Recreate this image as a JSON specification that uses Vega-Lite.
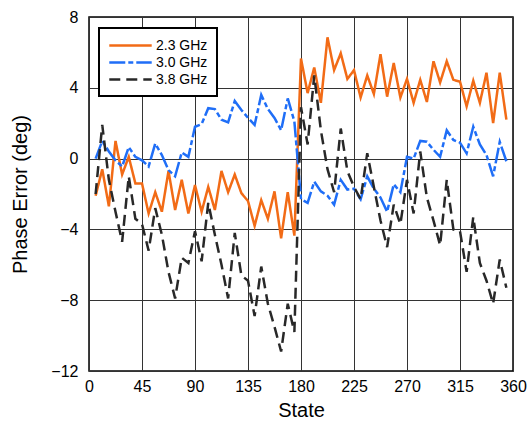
{
  "$schema": "https://vega.github.io/schema/vega-lite/v6.json",
  "width": 424,
  "height": 354,
  "autosize": {"type": "none"},
  "padding": {"left": 89, "top": 17, "right": 14, "bottom": 55},
  "background": "white",
  "config": {
    "font": "Liberation Sans",
    "view": {"stroke": "black", "strokeWidth": 1.5},
    "axis": {
      "grid": true,
      "gridColor": "#333333",
      "gridOpacity": 1,
      "gridWidth": 1,
      "ticks": false,
      "domain": false,
      "labelFontSize": 16,
      "labelColor": "black",
      "titleFontSize": 20,
      "titleFontWeight": "normal",
      "titleColor": "black"
    }
  },
  "datasets": {
    "d": [
      {"state": 5.625, "freq": "2.3 GHz", "err": -2.1},
      {"state": 11.25, "freq": "2.3 GHz", "err": -0.6},
      {"state": 16.875, "freq": "2.3 GHz", "err": -2.7},
      {"state": 22.5, "freq": "2.3 GHz", "err": 1.0},
      {"state": 28.125, "freq": "2.3 GHz", "err": -0.9},
      {"state": 33.75, "freq": "2.3 GHz", "err": 0.1},
      {"state": 39.375, "freq": "2.3 GHz", "err": -1.4},
      {"state": 45, "freq": "2.3 GHz", "err": -1.4},
      {"state": 50.625, "freq": "2.3 GHz", "err": -3.1},
      {"state": 56.25, "freq": "2.3 GHz", "err": -1.9},
      {"state": 61.875, "freq": "2.3 GHz", "err": -3.0},
      {"state": 67.5, "freq": "2.3 GHz", "err": -0.7},
      {"state": 73.125, "freq": "2.3 GHz", "err": -2.9},
      {"state": 78.75, "freq": "2.3 GHz", "err": -1.2},
      {"state": 84.375, "freq": "2.3 GHz", "err": -3.1},
      {"state": 90, "freq": "2.3 GHz", "err": -1.5},
      {"state": 95.625, "freq": "2.3 GHz", "err": -3.0},
      {"state": 101.25, "freq": "2.3 GHz", "err": -1.6},
      {"state": 106.875, "freq": "2.3 GHz", "err": -2.9},
      {"state": 112.5, "freq": "2.3 GHz", "err": -0.7},
      {"state": 118.125, "freq": "2.3 GHz", "err": -1.9},
      {"state": 123.75, "freq": "2.3 GHz", "err": -0.9},
      {"state": 129.375, "freq": "2.3 GHz", "err": -1.95},
      {"state": 135, "freq": "2.3 GHz", "err": -2.4},
      {"state": 140.625, "freq": "2.3 GHz", "err": -3.8},
      {"state": 146.25, "freq": "2.3 GHz", "err": -2.35},
      {"state": 151.875, "freq": "2.3 GHz", "err": -3.4},
      {"state": 157.5, "freq": "2.3 GHz", "err": -1.85},
      {"state": 163.125, "freq": "2.3 GHz", "err": -4.5},
      {"state": 168.75, "freq": "2.3 GHz", "err": -1.9},
      {"state": 174.375, "freq": "2.3 GHz", "err": -4.35},
      {"state": 180, "freq": "2.3 GHz", "err": 5.65},
      {"state": 185.625, "freq": "2.3 GHz", "err": 3.7},
      {"state": 191.25, "freq": "2.3 GHz", "err": 5.15},
      {"state": 196.875, "freq": "2.3 GHz", "err": 3.15},
      {"state": 202.5, "freq": "2.3 GHz", "err": 6.85},
      {"state": 208.125, "freq": "2.3 GHz", "err": 5.0},
      {"state": 213.75, "freq": "2.3 GHz", "err": 5.95},
      {"state": 219.375, "freq": "2.3 GHz", "err": 4.5},
      {"state": 225, "freq": "2.3 GHz", "err": 5.0},
      {"state": 230.625, "freq": "2.3 GHz", "err": 3.45},
      {"state": 236.25, "freq": "2.3 GHz", "err": 4.7},
      {"state": 241.875, "freq": "2.3 GHz", "err": 3.65},
      {"state": 247.5, "freq": "2.3 GHz", "err": 5.9},
      {"state": 253.125, "freq": "2.3 GHz", "err": 3.5},
      {"state": 258.75, "freq": "2.3 GHz", "err": 5.4},
      {"state": 264.375, "freq": "2.3 GHz", "err": 3.45},
      {"state": 270, "freq": "2.3 GHz", "err": 4.5},
      {"state": 275.625, "freq": "2.3 GHz", "err": 3.15},
      {"state": 281.25, "freq": "2.3 GHz", "err": 4.45},
      {"state": 286.875, "freq": "2.3 GHz", "err": 3.2},
      {"state": 292.5, "freq": "2.3 GHz", "err": 5.5},
      {"state": 298.125, "freq": "2.3 GHz", "err": 4.3},
      {"state": 303.75, "freq": "2.3 GHz", "err": 5.5},
      {"state": 309.375, "freq": "2.3 GHz", "err": 4.45},
      {"state": 315, "freq": "2.3 GHz", "err": 4.35},
      {"state": 320.625, "freq": "2.3 GHz", "err": 2.95},
      {"state": 326.25, "freq": "2.3 GHz", "err": 4.4},
      {"state": 331.875, "freq": "2.3 GHz", "err": 3.15},
      {"state": 337.5, "freq": "2.3 GHz", "err": 4.85},
      {"state": 343.125, "freq": "2.3 GHz", "err": 2.0},
      {"state": 348.75, "freq": "2.3 GHz", "err": 4.85},
      {"state": 354.375, "freq": "2.3 GHz", "err": 2.2},

      {"state": 5.625, "freq": "3.0 GHz", "err": 0.0},
      {"state": 11.25, "freq": "3.0 GHz", "err": 1.0},
      {"state": 16.875, "freq": "3.0 GHz", "err": 0.4},
      {"state": 22.5, "freq": "3.0 GHz", "err": -0.1},
      {"state": 28.125, "freq": "3.0 GHz", "err": -0.45},
      {"state": 33.75, "freq": "3.0 GHz", "err": 0.65},
      {"state": 39.375, "freq": "3.0 GHz", "err": 0.1},
      {"state": 45, "freq": "3.0 GHz", "err": -0.1},
      {"state": 50.625, "freq": "3.0 GHz", "err": -0.45},
      {"state": 56.25, "freq": "3.0 GHz", "err": 0.85},
      {"state": 61.875, "freq": "3.0 GHz", "err": 0.2},
      {"state": 67.5, "freq": "3.0 GHz", "err": -0.65},
      {"state": 73.125, "freq": "3.0 GHz", "err": -1.0},
      {"state": 78.75, "freq": "3.0 GHz", "err": 0.35},
      {"state": 84.375, "freq": "3.0 GHz", "err": 0.1},
      {"state": 90, "freq": "3.0 GHz", "err": 1.8},
      {"state": 95.625, "freq": "3.0 GHz", "err": 1.95},
      {"state": 101.25, "freq": "3.0 GHz", "err": 2.85},
      {"state": 106.875, "freq": "3.0 GHz", "err": 2.8},
      {"state": 112.5, "freq": "3.0 GHz", "err": 2.2},
      {"state": 118.125, "freq": "3.0 GHz", "err": 2.05},
      {"state": 123.75, "freq": "3.0 GHz", "err": 3.25},
      {"state": 129.375, "freq": "3.0 GHz", "err": 2.75},
      {"state": 135, "freq": "3.0 GHz", "err": 2.3},
      {"state": 140.625, "freq": "3.0 GHz", "err": 1.9},
      {"state": 146.25, "freq": "3.0 GHz", "err": 3.6},
      {"state": 151.875, "freq": "3.0 GHz", "err": 2.8},
      {"state": 157.5, "freq": "3.0 GHz", "err": 2.3},
      {"state": 163.125, "freq": "3.0 GHz", "err": 1.6},
      {"state": 168.75, "freq": "3.0 GHz", "err": 3.4},
      {"state": 174.375, "freq": "3.0 GHz", "err": 2.1},
      {"state": 180, "freq": "3.0 GHz", "err": -2.3},
      {"state": 185.625, "freq": "3.0 GHz", "err": -2.5},
      {"state": 191.25, "freq": "3.0 GHz", "err": -1.3},
      {"state": 196.875, "freq": "3.0 GHz", "err": -1.85},
      {"state": 202.5, "freq": "3.0 GHz", "err": -2.1},
      {"state": 208.125, "freq": "3.0 GHz", "err": -2.6},
      {"state": 213.75, "freq": "3.0 GHz", "err": -1.2},
      {"state": 219.375, "freq": "3.0 GHz", "err": -1.75},
      {"state": 225, "freq": "3.0 GHz", "err": -1.7},
      {"state": 230.625, "freq": "3.0 GHz", "err": -2.3},
      {"state": 236.25, "freq": "3.0 GHz", "err": -1.0},
      {"state": 241.875, "freq": "3.0 GHz", "err": -1.7},
      {"state": 247.5, "freq": "3.0 GHz", "err": -2.2},
      {"state": 253.125, "freq": "3.0 GHz", "err": -3.0},
      {"state": 258.75, "freq": "3.0 GHz", "err": -1.45},
      {"state": 264.375, "freq": "3.0 GHz", "err": -1.9},
      {"state": 270, "freq": "3.0 GHz", "err": 0.1},
      {"state": 275.625, "freq": "3.0 GHz", "err": 0.0},
      {"state": 281.25, "freq": "3.0 GHz", "err": 1.0},
      {"state": 286.875, "freq": "3.0 GHz", "err": 0.95},
      {"state": 292.5, "freq": "3.0 GHz", "err": 0.5},
      {"state": 298.125, "freq": "3.0 GHz", "err": 0.1},
      {"state": 303.75, "freq": "3.0 GHz", "err": 1.6},
      {"state": 309.375, "freq": "3.0 GHz", "err": 1.05},
      {"state": 315, "freq": "3.0 GHz", "err": 0.9},
      {"state": 320.625, "freq": "3.0 GHz", "err": 0.3},
      {"state": 326.25, "freq": "3.0 GHz", "err": 1.8},
      {"state": 331.875, "freq": "3.0 GHz", "err": 0.8},
      {"state": 337.5, "freq": "3.0 GHz", "err": 0.2},
      {"state": 343.125, "freq": "3.0 GHz", "err": -1.0},
      {"state": 348.75, "freq": "3.0 GHz", "err": 0.95},
      {"state": 354.375, "freq": "3.0 GHz", "err": -0.15},

      {"state": 5.625, "freq": "3.8 GHz", "err": -2.0},
      {"state": 11.25, "freq": "3.8 GHz", "err": 1.9},
      {"state": 16.875, "freq": "3.8 GHz", "err": -1.2},
      {"state": 22.5, "freq": "3.8 GHz", "err": -3.0},
      {"state": 28.125, "freq": "3.8 GHz", "err": -4.7},
      {"state": 33.75, "freq": "3.8 GHz", "err": -1.0},
      {"state": 39.375, "freq": "3.8 GHz", "err": -3.4},
      {"state": 45, "freq": "3.8 GHz", "err": -3.7},
      {"state": 50.625, "freq": "3.8 GHz", "err": -5.2},
      {"state": 56.25, "freq": "3.8 GHz", "err": -2.8},
      {"state": 61.875, "freq": "3.8 GHz", "err": -4.3},
      {"state": 67.5, "freq": "3.8 GHz", "err": -6.4},
      {"state": 73.125, "freq": "3.8 GHz", "err": -7.9},
      {"state": 78.75, "freq": "3.8 GHz", "err": -5.6},
      {"state": 84.375, "freq": "3.8 GHz", "err": -5.9},
      {"state": 90, "freq": "3.8 GHz", "err": -4.1},
      {"state": 95.625, "freq": "3.8 GHz", "err": -5.8},
      {"state": 101.25, "freq": "3.8 GHz", "err": -2.5},
      {"state": 106.875, "freq": "3.8 GHz", "err": -4.3},
      {"state": 112.5, "freq": "3.8 GHz", "err": -6.0},
      {"state": 118.125, "freq": "3.8 GHz", "err": -7.9},
      {"state": 123.75, "freq": "3.8 GHz", "err": -4.2},
      {"state": 129.375, "freq": "3.8 GHz", "err": -6.6},
      {"state": 135, "freq": "3.8 GHz", "err": -6.9},
      {"state": 140.625, "freq": "3.8 GHz", "err": -8.9},
      {"state": 146.25, "freq": "3.8 GHz", "err": -6.1},
      {"state": 151.875, "freq": "3.8 GHz", "err": -8.2},
      {"state": 157.5, "freq": "3.8 GHz", "err": -9.5},
      {"state": 163.125, "freq": "3.8 GHz", "err": -10.9},
      {"state": 168.75, "freq": "3.8 GHz", "err": -8.2},
      {"state": 174.375, "freq": "3.8 GHz", "err": -9.8},
      {"state": 180, "freq": "3.8 GHz", "err": 2.9},
      {"state": 185.625, "freq": "3.8 GHz", "err": 0.8},
      {"state": 191.25, "freq": "3.8 GHz", "err": 4.7},
      {"state": 196.875, "freq": "3.8 GHz", "err": 1.6},
      {"state": 202.5, "freq": "3.8 GHz", "err": -0.6},
      {"state": 208.125, "freq": "3.8 GHz", "err": -1.9},
      {"state": 213.75, "freq": "3.8 GHz", "err": 1.7},
      {"state": 219.375, "freq": "3.8 GHz", "err": -0.7},
      {"state": 225, "freq": "3.8 GHz", "err": -1.6},
      {"state": 230.625, "freq": "3.8 GHz", "err": -2.3},
      {"state": 236.25, "freq": "3.8 GHz", "err": 0.3},
      {"state": 241.875, "freq": "3.8 GHz", "err": -1.6},
      {"state": 247.5, "freq": "3.8 GHz", "err": -3.5},
      {"state": 253.125, "freq": "3.8 GHz", "err": -5.0},
      {"state": 258.75, "freq": "3.8 GHz", "err": -2.6},
      {"state": 264.375, "freq": "3.8 GHz", "err": -3.7},
      {"state": 270, "freq": "3.8 GHz", "err": -1.2},
      {"state": 275.625, "freq": "3.8 GHz", "err": -3.1},
      {"state": 281.25, "freq": "3.8 GHz", "err": 0.4},
      {"state": 286.875, "freq": "3.8 GHz", "err": -2.2},
      {"state": 292.5, "freq": "3.8 GHz", "err": -3.5},
      {"state": 298.125, "freq": "3.8 GHz", "err": -4.9},
      {"state": 303.75, "freq": "3.8 GHz", "err": -1.2},
      {"state": 309.375, "freq": "3.8 GHz", "err": -4.0},
      {"state": 315, "freq": "3.8 GHz", "err": -4.1},
      {"state": 320.625, "freq": "3.8 GHz", "err": -6.4},
      {"state": 326.25, "freq": "3.8 GHz", "err": -3.3},
      {"state": 331.875, "freq": "3.8 GHz", "err": -5.9},
      {"state": 337.5, "freq": "3.8 GHz", "err": -6.9},
      {"state": 343.125, "freq": "3.8 GHz", "err": -8.2},
      {"state": 348.75, "freq": "3.8 GHz", "err": -5.7},
      {"state": 354.375, "freq": "3.8 GHz", "err": -7.3}
    ]
  },
  "data": {"name": "d"},
  "mark": {"type": "line", "strokeWidth": 2.5, "clip": true},
  "encoding": {
    "x": {
      "field": "state",
      "type": "quantitative",
      "scale": {"domain": [0, 360], "nice": false, "zero": false},
      "axis": {
        "values": [0, 45, 90, 135, 180, 225, 270, 315, 360],
        "title": "State",
        "labelPadding": 7,
        "titlePadding": 6,
        "labelFlush": false
      }
    },
    "y": {
      "field": "err",
      "type": "quantitative",
      "scale": {"domain": [-12, 8], "nice": false, "zero": false},
      "axis": {
        "values": [-12, -8, -4, 0, 4, 8],
        "title": "Phase Error (deg)",
        "labelPadding": 11,
        "titlePadding": 20
      }
    },
    "color": {
      "field": "freq",
      "type": "nominal",
      "scale": {"domain": ["2.3 GHz", "3.0 GHz", "3.8 GHz"], "range": ["#F26B16", "#1F6EF7", "#282828"]},
      "legend": {
        "orient": "none",
        "legendX": 10,
        "legendY": 11,
        "title": null,
        "fillColor": "white",
        "strokeColor": "black",
        "padding": 9,
        "symbolType": "M-3,0H3",
        "symbolSize": 200,
        "symbolOffset": 14,
        "symbolStrokeWidth": 2.5,
        "labelFontSize": 14,
        "labelColor": "black",
        "labelOffset": 17,
        "rowPadding": 1,
        "encode": {"legend": {"update": {"strokeWidth": {"value": 2}}}}
      }
    },
    "strokeDash": {
      "field": "freq",
      "type": "nominal",
      "scale": {"domain": ["2.3 GHz", "3.0 GHz", "3.8 GHz"], "range": [[1, 0], [16, 3, 5, 3], [11, 6]]},
      "legend": {
        "orient": "none",
        "legendX": 10,
        "legendY": 11,
        "title": null,
        "fillColor": "white",
        "strokeColor": "black",
        "padding": 9,
        "symbolType": "M-3,0H3",
        "symbolSize": 200,
        "symbolOffset": 14,
        "symbolStrokeWidth": 2.5,
        "labelFontSize": 14,
        "labelColor": "black",
        "labelOffset": 17,
        "rowPadding": 1,
        "encode": {"legend": {"update": {"strokeWidth": {"value": 2}}}}
      }
    }
  }
}
